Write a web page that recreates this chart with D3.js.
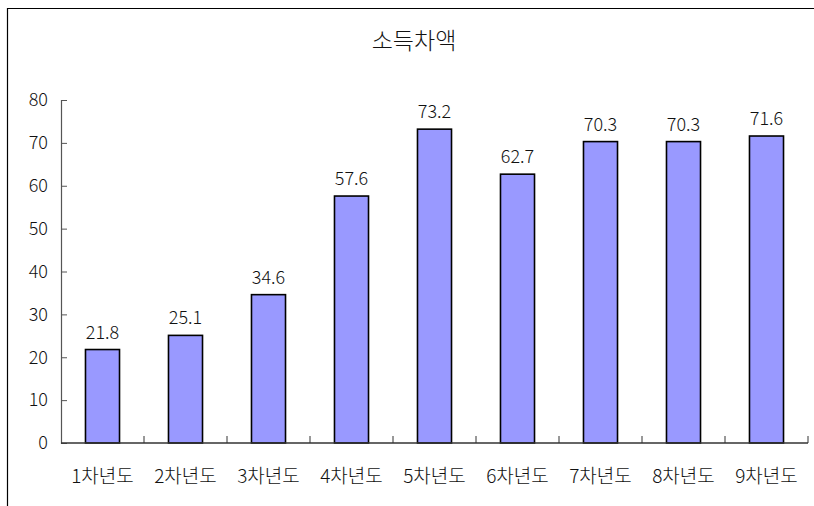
<!DOCTYPE html>
<html>
<head>
<meta charset="utf-8">
<script src="https://cdn.jsdelivr.net/npm/d3@7"></script>
<style>
  html, body { margin: 0; padding: 0; background: #fff; }
  svg { display: block; }
  text { font-family: "Noto Sans CJK KR", "Noto Sans", sans-serif; fill: #111; }
</style>
</head>
<body>
<svg id="chart" width="814" height="506"></svg>
<script>
// Income gap by year
const categories = ["1차년도", "2차년도", "3차년도", "4차년도", "5차년도", "6차년도", "7차년도", "8차년도", "9차년도"];
const values = [21.8, 25.1, 34.6, 57.6, 73.2, 62.7, 70.3, 70.3, 71.6];
const yTicks = [0, 10, 20, 30, 40, 50, 60, 70, 80];
const title = "소득차액";

const svg = d3.select("#chart");
const W = 814, H = 506;
const margin = { left: 61, right: 6, top: 100, bottom: 63 };

// outer frame (top and left edges visible)
svg.append("path")
  .attr("d", `M7.5,${H} V8.5 H${W}`)
  .attr("fill", "none")
  .attr("stroke", "#000")
  .attr("stroke-width", 1.2);

svg.append("text")
  .attr("x", 414).attr("y", 49)
  .attr("text-anchor", "middle")
  .attr("font-size", 23)
  .attr("font-weight", 300)
  .text(title);

const x = d3.scaleBand()
  .domain(categories)
  .range([margin.left, W - margin.right])
  .paddingInner(0).paddingOuter(0);

const y = d3.scaleLinear()
  .domain([0, 80])
  .range([H - margin.bottom, margin.top]);

const barW = x.bandwidth() * 0.41;

// bars
svg.append("g").selectAll("rect")
  .data(values)
  .join("rect")
  .attr("x", (d, i) => x(categories[i]) + (x.bandwidth() - barW) / 2)
  .attr("y", d => y(d))
  .attr("width", barW)
  .attr("height", d => y(0) - y(d))
  .attr("fill", "#9999FF")
  .attr("stroke", "#000")
  .attr("stroke-width", 1.6);

// value labels
svg.append("g").selectAll("text")
  .data(values)
  .join("text")
  .attr("x", (d, i) => x(categories[i]) + x.bandwidth() / 2)
  .attr("y", d => y(d) - 11)
  .attr("text-anchor", "middle")
  .attr("font-size", 18)
  .attr("font-weight", 300)
  .text(d => d.toFixed(1));

// y axis (ticks pointing inward)
const yAxis = svg.append("g")
  .attr("transform", `translate(${margin.left},0)`)
  .call(d3.axisRight(y).tickValues(yTicks).tickSize(6).tickFormat(d3.format("d")));
yAxis.select(".domain").attr("stroke", "#555").attr("stroke-width", 1.2);
yAxis.selectAll(".tick line").attr("stroke", "#555");
yAxis.selectAll(".tick text")
  .attr("x", -13)
  .attr("text-anchor", "end")
  .attr("font-size", 18)
  .attr("font-weight", 300)
  .attr("fill", "#111")
  .style("font-family", "\"Noto Sans CJK KR\", sans-serif");

// x axis: ticks at band boundaries, pointing up
const xAxisG = svg.append("g").attr("transform", `translate(0,${y(0)})`);
xAxisG.append("line")
  .attr("x1", margin.left).attr("x2", W - margin.right)
  .attr("stroke", "#333").attr("stroke-width", 1.4);
const boundaries = categories.map(c => x(c) + x.bandwidth());
xAxisG.selectAll("line.tk")
  .data(boundaries)
  .join("line")
  .attr("class", "tk")
  .attr("x1", d => d).attr("x2", d => d)
  .attr("y1", 0).attr("y2", -7)
  .attr("stroke", "#333");
xAxisG.selectAll("text")
  .data(categories)
  .join("text")
  .attr("x", c => x(c) + x.bandwidth() / 2)
  .attr("y", 40)
  .attr("text-anchor", "middle")
  .attr("font-size", 19)
  .attr("font-weight", 300)
  .text(c => c);
</script>
</body>
</html>
